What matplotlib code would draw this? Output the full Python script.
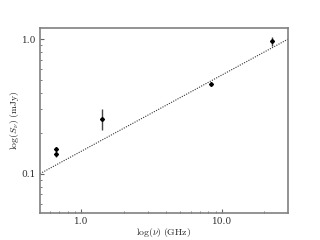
import matplotlib
matplotlib.use("Agg")
import matplotlib.pyplot as plt

plt.rcParams['font.family'] = ['DejaVu Serif']
plt.rcParams['mathtext.fontset'] = 'cm'

# data
freq = [0.66, 0.66, 1.40, 8.3, 22.8]
flux = [0.152, 0.140, 0.255, 0.463, 0.966]
flux_err = [0.006, 0.006, 0.045, 0.018, 0.07]
fit_freq = [0.51, 29.4]
fit_flux = [0.1, 1.0]
xticks = [1.0, 10.0]
xticklabels = ['1.0', '10.0']
yticks = [0.1, 1.0]
yticklabels = ['0.1', '1.0']

fig = plt.figure(figsize=(3.2, 2.4), dpi=100)
ax = fig.add_axes([0.125, 0.1125, 0.775, 0.7708])
ax.set_xscale('log')
ax.set_yscale('log')

ax.plot(fit_freq, fit_flux, linestyle=(0, (1, 1.2)), color='#333333', lw=0.8)
ax.errorbar(freq, flux, yerr=flux_err, fmt='D', ms=2.0, color='black',
            ecolor='#444444', elinewidth=1.0, capsize=0)

ax.set_xlim(0.51, 29.4)
ax.set_ylim(0.051, 1.21)
ax.set_xticks(xticks)
ax.set_xticklabels(xticklabels)
ax.set_yticks(yticks)
ax.set_yticklabels(yticklabels)
ax.minorticks_on()
ax.tick_params(which='both', direction='in', color='#666666', labelsize=6.5,
               labelcolor='#333333', pad=3)
ax.tick_params(which='major', length=3)
ax.tick_params(which='minor', length=1.5)
ax.yaxis.set_minor_formatter(matplotlib.ticker.NullFormatter())
ax.xaxis.set_minor_formatter(matplotlib.ticker.NullFormatter())
for s in ax.spines.values():
    s.set_color('#808080')
    s.set_linewidth(1.2)

ax.set_xlabel(r'$\mathrm{log}(\nu)\;\mathrm{(GHz)}$', fontsize=7, color='#222222')
ax.set_ylabel(r'$\mathrm{log}(S_\nu)\;\mathrm{(mJy)}$', fontsize=7, color='#222222')
ax.yaxis.set_label_coords(-0.078, 0.5)
ax.xaxis.set_label_coords(0.5, -0.07)

fig.savefig('out.png', dpi=100)
